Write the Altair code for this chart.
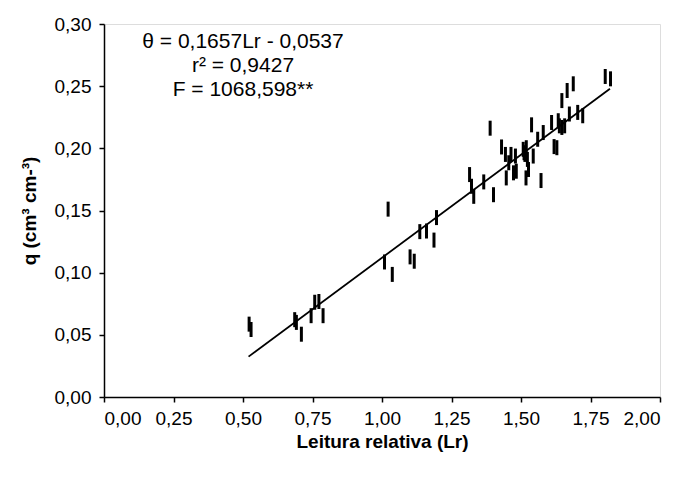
import altair as alt
import pandas as pd

lr = [0.522, 0.529, 0.686, 0.692, 0.710, 0.745, 0.758, 0.773, 0.788, 1.009,
      1.022, 1.037, 1.101, 1.116, 1.136, 1.160, 1.187, 1.196, 1.315, 1.322,
      1.330, 1.366, 1.389, 1.401, 1.430, 1.444, 1.447, 1.456, 1.464, 1.473,
      1.480, 1.483, 1.508, 1.511, 1.514, 1.518, 1.519, 1.523, 1.527, 1.538,
      1.544, 1.560, 1.572, 1.580, 1.610, 1.619, 1.629, 1.634, 1.638, 1.647,
      1.647, 1.657, 1.666, 1.674, 1.688, 1.704, 1.722, 1.803, 1.822]
theta = [0.0586, 0.0543, 0.0622, 0.0600, 0.0505, 0.0654, 0.0762, 0.0768, 0.0654, 0.1086,
         0.1511, 0.0986, 0.1127, 0.1092, 0.1330, 0.1335, 0.1262, 0.1443, 0.1789, 0.1695,
         0.1614, 0.1730, 0.2162, 0.1627, 0.2011, 0.1951, 0.1762, 0.1884, 0.1951, 0.1803,
         0.1938, 0.1816, 0.1992, 0.1965, 0.1951, 0.1762, 0.2005, 0.1911, 0.1830, 0.2189,
         0.1938, 0.2073, 0.1741, 0.2127, 0.2208, 0.2014, 0.2005, 0.2222, 0.2181, 0.2384,
         0.2168, 0.2181, 0.2465, 0.2276, 0.2519, 0.2289, 0.2262, 0.2578, 0.2559]

slope = 0.1657
intercept = -0.0537
line_x = [0.52, 1.82]

ann_text = ["θ = 0,1657Lr - 0,0537", "r² = 0,9427", "F = 1068,598**"]
ann_x = [0.5, 0.5, 0.5]
ann_y = [0.2856, 0.2664, 0.2472]

x_ticks = [0, 0.25, 0.5, 0.75, 1.0, 1.25, 1.5, 1.75, 2.0]
y_ticks = [0, 0.05, 0.10, 0.15, 0.20, 0.25, 0.30]

pts = pd.DataFrame({"Lr": lr, "theta": theta})
fit = pd.DataFrame({"Lr": line_x, "theta": [slope * v + intercept for v in line_x]})
ann = pd.DataFrame({"Lr": ann_x, "theta": ann_y, "t": ann_text})

FONT = "Liberation Sans"
label_expr = "replace(format(datum.value, '.2f'), '.', ',')"

xs = alt.Scale(domain=[0, 2], nice=False, zero=True)
ys = alt.Scale(domain=[0, 0.3], nice=False, zero=True)

xax = alt.Axis(values=x_ticks, labelExpr=label_expr, title="Leitura relativa (Lr)",
               grid=False, domainColor="black", domainWidth=1.5, tickColor="black",
               tickWidth=1.5, tickSize=5, labelFont=FONT, labelFontSize=19,
               labelColor="black", labelPadding=7, titleFont=FONT, titleFontSize=19,
               titleFontWeight="bold", titleColor="black", titlePadding=4)
yax = alt.Axis(values=y_ticks, labelExpr=label_expr, title="q (cm³ cm-³)",
               grid=False, domainColor="black", domainWidth=1.5, tickColor="black",
               tickWidth=1.5, tickSize=5, labelFont=FONT, labelFontSize=19,
               labelColor="black", labelPadding=8, titleFont=FONT, titleFontSize=19,
               titleFontWeight="bold", titleColor="black", titlePadding=15)

points = alt.Chart(pts).mark_tick(orient="vertical", color="black", opacity=1,
                                  thickness=3, size=15).encode(
    x=alt.X("Lr:Q", scale=xs, axis=xax),
    y=alt.Y("theta:Q", scale=ys, axis=yax),
)

line = alt.Chart(fit).mark_line(color="black", strokeWidth=1.8).encode(
    x=alt.X("Lr:Q", scale=xs),
    y=alt.Y("theta:Q", scale=ys),
)

text = alt.Chart(ann).mark_text(font=FONT, fontSize=21, color="black", align="center",
                                baseline="middle").encode(
    x=alt.X("Lr:Q", scale=xs),
    y=alt.Y("theta:Q", scale=ys),
    text="t:N",
)

chart = alt.layer(points, line, text).properties(
    width=556, height=373,
    autosize=alt.AutoSizeParams(type="none"),
    padding={"left": 96, "top": 16, "right": 20, "bottom": 75},
).configure_view(stroke=None).configure(background="white")

chart.save("out.html", embed_options={"renderer": "svg", "actions": False})
